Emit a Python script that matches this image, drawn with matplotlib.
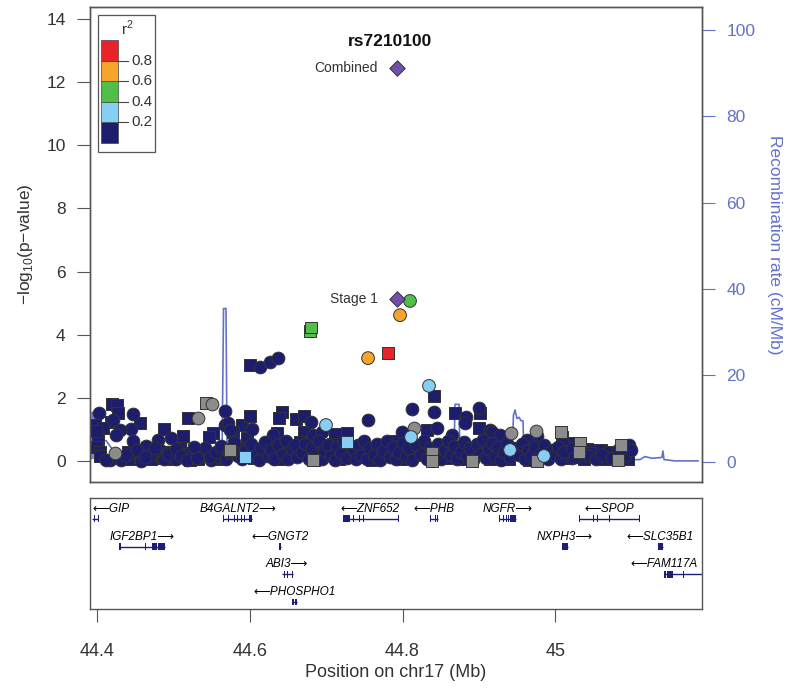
import numpy as np
import matplotlib
matplotlib.use('Agg')
import matplotlib.pyplot as plt
from matplotlib.patches import Rectangle

plt.rcParams['font.family'] = ['Liberation Sans', 'DejaVu Sans']
plt.rcParams['mathtext.fontset'] = 'custom'
plt.rcParams['mathtext.rm'] = 'Liberation Sans'

# ---- association data (position in Mb, -log10 p) ----
navy_circle_pos = [44.4022, 44.4205, 44.4467, 44.4441, 44.4297, 44.4245, 44.4467, 44.4638, 44.4795, 44.4965,
                   44.5673, 44.5673, 44.5713, 44.5739, 44.6027, 44.6302, 44.6800, 44.6826, 44.6944, 44.7548,
                   44.8124, 44.8412, 44.8832, 44.8819, 44.9002, 44.9146, 44.8452, 44.7993, 44.8648, 44.9762,
                   44.9631, 45.0103, 45.0968, 45.0221, 44.5201, 44.4821, 44.4926, 44.4690, 44.4572, 44.4310,
                   44.4166, 44.5031, 44.5490, 44.5608, 44.5359, 44.5412, 44.6132, 44.6263, 44.6368, 44.9172,
                   44.9277,
                   44.412, 44.437, 44.452, 44.463, 44.475, 44.488, 44.492, 44.503, 44.510, 44.518,
                   44.527, 44.531, 44.548, 44.556, 44.562, 44.568, 44.573, 44.579, 44.585,
                   44.590, 44.594, 44.601, 44.608, 44.612, 44.615, 44.620, 44.624, 44.628, 44.632,
                   44.637, 44.643, 44.647, 44.650, 44.655, 44.659, 44.662, 44.668, 44.672, 44.678,
                   44.681, 44.686, 44.690, 44.694, 44.697, 44.702, 44.706, 44.711, 44.714, 44.719,
                   44.723, 44.727, 44.735, 44.739, 44.742, 44.746, 44.750, 44.754, 44.758, 44.763,
                   44.767, 44.771, 44.775, 44.779, 44.783, 44.788, 44.792, 44.796, 44.800, 44.804,
                   44.808, 44.812, 44.818, 44.824, 44.828, 44.832, 44.836, 44.842, 44.846, 44.850,
                   44.855, 44.859, 44.863, 44.867, 44.872, 44.876, 44.880, 44.884, 44.888, 44.893,
                   44.897, 44.901, 44.905, 44.909, 44.913, 44.917, 44.921, 44.925, 44.929, 44.933,
                   44.937, 44.941, 44.945, 44.952, 44.956, 44.960, 44.964, 44.968, 44.973, 44.977,
                   44.981, 44.986, 44.990, 44.996, 45.000, 45.004, 45.008, 45.012, 45.022, 45.026,
                   45.034, 45.045, 45.054, 45.062, 45.075, 45.083, 45.092, 45.099]
navy_circle_logp = [1.52, 1.30, 1.49, 1.01, 0.98, 0.82, 0.63, 0.48, 0.66, 0.73,
                    1.58, 1.14, 1.20, 0.98, 1.01, 0.82, 1.24, 0.82, 0.92, 1.30,
                    1.65, 1.55, 1.39, 1.20, 1.68, 0.98, 1.05, 0.92, 0.82, 0.79,
                    0.66, 0.57, 0.51, 0.10, 0.25, 0.35, 0.29, 0.19, 0.00, 0.03,
                    0.03, 0.06, 0.03, 0.13, 0.19, 0.41, 2.98, 3.14, 3.26, 0.92,
                    0.82,
                    0.02, 0.18, 0.35, 0.12, 0.42, 0.05, 0.22, 0.38, 0.15, 0.03,
                    0.45, 0.10, 0.14, 0.30, 0.48, 0.05, 0.28, 0.60, 0.15,
                    0.05, 0.33, 0.55, 0.20, 0.02, 0.42, 0.60, 0.15, 0.35, 0.05,
                    0.50, 0.22, 0.65, 0.08, 0.38, 0.52, 0.12, 0.30, 0.55, 0.05,
                    0.40, 0.18, 0.62, 0.08, 0.35, 0.50, 0.15, 0.03, 0.45, 0.25,
                    0.60, 0.10, 0.38, 0.05, 0.52, 0.20, 0.65, 0.08, 0.40, 0.18,
                    0.55, 0.02, 0.33, 0.62, 0.12, 0.45, 0.05, 0.28, 0.58, 0.15,
                    0.40, 0.03, 0.50, 0.22, 0.62, 0.08, 0.40, 0.18, 0.55, 0.05,
                    0.35, 0.62, 0.20, 0.48, 0.05, 0.30, 0.60, 0.15, 0.42, 0.03,
                    0.55, 0.22, 0.68, 0.10, 0.38, 0.58, 0.15, 0.45, 0.02, 0.30,
                    0.55, 0.12, 0.40, 0.20, 0.55, 0.05, 0.35, 0.15, 0.45, 0.02,
                    0.25, 0.50, 0.08, 0.35, 0.18, 0.45, 0.05, 0.28, 0.40, 0.12,
                    0.30, 0.15, 0.05, 0.20, 0.10, 0.35, 0.15, 0.35]

navy_square_pos = [44.4192, 44.4258, 44.4271, 44.4179, 44.4559, 44.3970, 44.4074, 44.4009, 44.3996, 44.4035,
                   44.4874, 44.5123, 44.5516, 44.5464, 44.5896, 44.5778, 44.6001, 44.5961, 44.6420, 44.6381,
                   44.6355, 44.6604, 44.6709, 44.6709, 44.7115, 44.7273, 44.8687, 44.9015, 44.9002, 44.8321,
                   45.0090, 45.0824, 45.0418, 45.0497, 45.0615, 44.4756, 44.4402, 44.4441, 44.5320, 44.5188,
                   44.6001, 44.8412,
                   44.440, 44.456, 44.470, 44.485, 44.497, 44.508, 44.514, 44.522, 44.540, 44.559,
                   44.583, 44.398, 44.404,
                   44.598, 44.605, 44.618, 44.626, 44.640, 44.652, 44.665, 44.675, 44.684, 44.700,
                   44.709, 44.717, 44.730, 44.744, 44.752, 44.760, 44.769, 44.781, 44.790, 44.798,
                   44.806, 44.815, 44.826, 44.838, 44.848, 44.857,
                   44.870, 44.882, 44.895, 44.903, 44.915, 44.927, 44.939, 44.958, 44.966, 44.979,
                   44.992, 45.006, 45.014, 45.020, 45.030, 45.038, 45.048, 45.060, 45.066, 45.072,
                   45.078, 45.087, 45.095]
navy_square_logp = [1.81, 1.77, 1.52, 1.24, 1.20, 1.14, 1.05, 0.70, 0.44, 0.29,
                    1.01, 0.79, 0.89, 0.76, 1.14, 0.92, 1.43, 0.73, 1.55, 1.36,
                    0.89, 1.33, 1.43, 0.92, 0.86, 0.89, 1.52, 1.52, 1.05, 0.98,
                    0.76, 0.25, 0.38, 0.35, 0.29, 0.10, 0.29, 0.06, 0.06, 1.36,
                    3.04, 2.06,
                    0.05, 0.28, 0.08, 0.15, 0.05, 0.40, 0.22, 0.02, 0.35, 0.06,
                    0.42, 0.95, 0.15,
                    0.40, 0.10, 0.28, 0.55, 0.05, 0.30, 0.60, 0.20, 0.02, 0.25,
                    0.55, 0.05, 0.30, 0.12, 0.35, 0.02, 0.48, 0.25, 0.65, 0.05,
                    0.32, 0.18, 0.40, 0.05, 0.30, 0.10,
                    0.35, 0.08, 0.28, 0.45, 0.05, 0.25, 0.05, 0.30, 0.02, 0.38,
                    0.22, 0.30, 0.10, 0.58, 0.35, 0.05, 0.25, 0.35, 0.08, 0.30,
                    0.05, 0.22, 0.05]

gray_circle_pos = [44.5503, 44.5320, 44.8150, 44.4232, 44.9422, 44.9749]
gray_circle_logp = [1.81, 1.36, 1.05, 0.25, 0.89, 0.95]
gray_square_pos = [44.5424, 45.0077, 45.0326, 45.0313, 45.0863, 45.0824, 44.5739, 44.6826, 44.8386, 44.9762,
                   44.8910, 44.8386]
gray_square_logp = [1.84, 0.92, 0.57, 0.29, 0.51, 0.03, 0.35, 0.03, 0.25, 0.00,
                    0.00, 0.00]

ld_circle_pos = [44.8111, 44.6997, 44.9409, 44.9854, 44.8347, 44.7548, 44.7967, 44.8098]
ld_circle_logp = [0.76, 1.14, 0.35, 0.16, 2.38, 3.26, 4.62, 5.07]
ld_circle_r2 = [0.3, 0.3, 0.3, 0.3, 0.3, 0.7, 0.7, 0.5]
ld_square_pos = [44.5935, 44.7273, 44.6787, 44.6800, 44.7810]
ld_square_logp = [0.13, 0.60, 4.12, 4.24, 3.42]
ld_square_r2 = [0.3, 0.3, 0.5, 0.5, 0.9]

lead_pos = [44.7928, 44.7928]
lead_logp = [12.45, 5.13]
lead_label = ['Combined', 'Stage 1']
ref_snp = 'rs7210100'

# ---- recombination rate (cM/Mb) ----
recomb_pos = [44.3910, 44.3930, 44.3931, 44.3956, 44.3957, 44.4035, 44.4036, 44.4114, 44.4192, 44.4297,
              44.4690, 44.5057, 44.5097, 44.5188, 44.5228, 44.5634, 44.5654, 44.5686, 44.5700, 44.5765,
              44.6656, 44.7967, 44.8675, 44.8687, 44.8740, 44.8753, 44.8989, 44.9002, 44.9015, 44.9435,
              44.9454, 44.9474, 44.9500, 44.9527, 44.9553, 44.9579, 44.9592, 45.0064, 45.0719, 45.1112,
              45.1177, 45.1269, 45.1400, 45.1413, 45.1427, 45.1570, 45.1872]
recomb_rate = [0.8, 0.8, 11.4, 11.4, 0.7, 0.7, 4.9, 4.9, 3.0, 1.2,
               1.0, 1.0, 4.4, 4.4, 1.0, 0.8, 35.5, 35.5, 2.0, 0.5,
               0.5, 0.8, 0.9, 13.3, 13.3, 1.0, 1.0, 9.0, 1.2, 1.2,
               10.8, 12.0, 10.0, 10.3, 9.5, 9.5, 1.0, 0.6, 0.4, 0.5,
               1.2, 0.8, 1.0, 2.5, 0.5, 0.2, 0.2]

# ---- genes ----
gene_name = ['GIP', 'B4GALNT2', 'ZNF652', 'PHB', 'NGFR', 'SPOP', 'IGF2BP1', 'GNGT2', 'NXPH3',
             'SLC35B1', 'ABI3', 'FAM117A', 'PHOSPHO1']
gene_strand = ['-', '+', '-', '-', '+', '-', '+', '-', '+', '-', '+', '-', '-']
gene_row = [0, 0, 0, 0, 0, 0, 1, 1, 1, 1, 2, 2, 3]
gene_start = [44.3926, 44.5651, 44.7216, 44.8360, 44.9268, 45.0317, 44.4288, 44.6385, 45.0086,
              45.1344, 44.6416, 45.1427, 44.6555]
gene_end = [44.4013, 44.6027, 44.7945, 44.8469, 44.9487, 45.1103, 44.4887, 44.6403, 45.0173,
            45.1417, 44.6561, 45.2488, 44.6621]
gene_exons = [
    [(44.3926, 44.3932), (44.3956, 44.3961), (44.3989, 44.3994), (44.4008, 44.4013)],
    [(44.5651, 44.5656), (44.5713, 44.5718), (44.5791, 44.5796), (44.5830, 44.5835), (44.5883, 44.5888),
     (44.5922, 44.5927), (44.5988, 44.6027)],
    [(44.7216, 44.7312), (44.7355, 44.7360), (44.7434, 44.7439), (44.7486, 44.7491), (44.7940, 44.7945)],
    [(44.8360, 44.8366), (44.8393, 44.8398), (44.8426, 44.8431), (44.8458, 44.8469)],
    [(44.9268, 44.9273), (44.9317, 44.9322), (44.9356, 44.9361), (44.9382, 44.9387), (44.9408, 44.9487)],
    [(45.0317, 45.0322), (45.0348, 45.0353), (45.0414, 45.0419), (45.0500, 45.0505), (45.0545, 45.0566),
     (45.0706, 45.0711), (45.1004, 45.1009), (45.1098, 45.1103)],
    [(44.4288, 44.4306), (44.4582, 44.4587), (44.4625, 44.4630), (44.4713, 44.4778), (44.4799, 44.4887)],
    [(44.6385, 44.6403)],
    [(45.0086, 45.0173)],
    [(45.1344, 45.1417)],
    [(44.6416, 44.6421), (44.6446, 44.6451), (44.6486, 44.6491), (44.6519, 44.6524), (44.6556, 44.6561)],
    [(45.1427, 45.1453), (45.1466, 45.1545), (45.1676, 45.1681)],
    [(44.6555, 44.6571), (44.6591, 44.6621)],
]

xticks = [44.4, 44.6, 44.8, 45.0]
xticklabels = ['44.4', '44.6', '44.8', '45']

# colours
navy = '#1D1D6E'
ld_colors = ['#1D1D6E', '#87CEF5', '#4FBF4A', '#F5A52A', '#E8232A']
recomb_color = '#6272C8'
txt = '#333333'
edge = '#333333'


def r2_color(r):
    return ld_colors[min(int(r / 0.2), 4)]


fig = plt.figure(figsize=(7.91, 6.89), dpi=100)
ax = fig.add_axes([0.1138, 0.3004, 0.7737, 0.6894])
axr = ax.twinx()
ax.set_zorder(axr.get_zorder() + 1)
ax.patch.set_visible(False)

xmin, xmax = 44.3904, 45.1925
ax.set_xlim(xmin, xmax)
ax.set_ylim(-0.665, 14.38)
axr.set_ylim(-4.70, 105.35)

axr.plot(recomb_pos, recomb_rate, color=recomb_color, lw=1.2)

sq = dict(marker='s', s=66, edgecolors=edge, linewidths=0.7)
ci = dict(marker='o', s=84, edgecolors=edge, linewidths=0.7)
ax.scatter(navy_square_pos, navy_square_logp, c=navy, zorder=2, **sq)
ax.scatter(navy_circle_pos, navy_circle_logp, c=navy, zorder=2, **ci)
ax.scatter(gray_square_pos, gray_square_logp, c='#8C8C8C', zorder=2, **sq)
ax.scatter(gray_circle_pos, gray_circle_logp, c='#8C8C8C', zorder=2, **ci)
ax.scatter(ld_square_pos, ld_square_logp, c=[r2_color(r) for r in ld_square_r2], zorder=3, **sq)
ax.scatter(ld_circle_pos, ld_circle_logp, c=[r2_color(r) for r in ld_circle_r2], zorder=3, **ci)
ax.scatter(lead_pos, lead_logp, marker='D', s=62, c='#7050A8', edgecolors=edge, linewidths=0.7, zorder=4)
for xp, yp, lab in zip(lead_pos, lead_logp, lead_label):
    ax.annotate(lab, (xp, yp), xytext=(-14, 0), textcoords='offset points', ha='right', va='center',
                fontsize=10, color=txt)
ax.text(0.490, 0.928, ref_snp, transform=ax.transAxes, ha='center', va='center', fontsize=12.5,
        fontweight='bold', color='#111111')

# axes styling
for a in (ax, axr):
    for s in a.spines.values():
        s.set_color('#555555')
        s.set_linewidth(1.0)
ax.set_xticks([])
ax.set_yticks(range(0, 15, 2))
ax.tick_params(axis='y', length=9.5, width=0.8, color='#555555', labelsize=12.5, labelcolor=txt, pad=8)
ax.set_ylabel(r'$-$log$_{10}$(p$-$value)', fontsize=12.5, color=txt, labelpad=8)
axr.set_yticks(range(0, 101, 20))
axr.tick_params(axis='y', length=9.5, width=0.8, color=recomb_color, labelsize=12.5, labelcolor=recomb_color,
                pad=8)
axr.set_ylabel('Recombination rate (cM/Mb)', fontsize=12.5, color=recomb_color, rotation=270, labelpad=19)

# r2 legend
ax.add_patch(Rectangle((0.0131, 0.6947), 0.0931, 0.2885, transform=ax.transAxes, fill=False,
                       edgecolor='#555555', lw=0.9, zorder=5))
step = (0.9305 - 0.7137) / 5
for i, col in enumerate(ld_colors):
    ax.add_patch(Rectangle((0.0180, 0.7137 + i * step), 0.0278, step, transform=ax.transAxes,
                           facecolor=col, edgecolor='#444444', lw=0.5, zorder=6))
for i, lab in enumerate(['0.2', '0.4', '0.6', '0.8']):
    yb = 0.7137 + (i + 1) * step
    ax.plot([0.0458, 0.0621], [yb, yb], transform=ax.transAxes, color='#444444', lw=0.8, zorder=6)
    ax.text(0.0670, yb, lab, transform=ax.transAxes, ha='left', va='center', fontsize=11, color=txt, zorder=6)
ax.text(0.0605, 0.9558, r'r$^2$', transform=ax.transAxes, ha='center', va='center', fontsize=11, color=txt,
        zorder=6)

# gene panel
ax2 = fig.add_axes([0.1138, 0.1161, 0.7737, 0.1611])
ax2.set_xlim(xmin, xmax)
ax2.set_ylim(4.0, 0.0)
ax2.set_yticks([])
for s in ax2.spines.values():
    s.set_color('#555555')
    s.set_linewidth(1.0)
ax2.set_xticks(xticks)
ax2.set_xticklabels(xticklabels)
ax2.tick_params(axis='x', length=9.5, width=0.8, color='#555555', labelsize=13, labelcolor=txt, pad=15)
ax2.set_xlabel('Position on chr17 (Mb)', fontsize=13, color=txt, labelpad=3)

gcol = '#1E1E78'
labels = []
for name, strand, row, g0, g1, exons in zip(gene_name, gene_strand, gene_row, gene_start, gene_end, gene_exons):
    yb = row + 0.75
    ax2.plot([g0, g1], [yb, yb], color=gcol, lw=1.0, solid_capstyle='butt', clip_on=True)
    for e0, e1 in exons:
        w = max(e1 - e0, 0.0008)
        ax2.add_patch(Rectangle((e0, yb - 0.12), w, 0.24, facecolor=gcol, edgecolor='none', clip_on=True))
    lab = ('\u27f5' + name) if strand == '-' else (name + '\u27f6')
    t = ax2.text((g0 + min(g1, xmax)) / 2, yb - 0.36, lab, ha='center', va='center', fontsize=8.5,
                 style='italic', color='#000000')
    labels.append(t)

# keep gene labels inside the panel
fig.canvas.draw()
inv = ax2.transData.inverted()
bb_ax = ax2.get_window_extent()
for t in labels:
    bb = t.get_window_extent()
    shift = 0.0
    if bb.x0 < bb_ax.x0 + 2:
        shift = bb_ax.x0 + 2 - bb.x0
    elif bb.x1 > bb_ax.x1 - 4:
        shift = bb_ax.x1 - 4 - bb.x1
    if shift:
        x_disp = ax2.transData.transform(t.get_position())[0] + shift
        t.set_x(inv.transform((x_disp, 0))[0])

fig.savefig('out.png', dpi=100)
